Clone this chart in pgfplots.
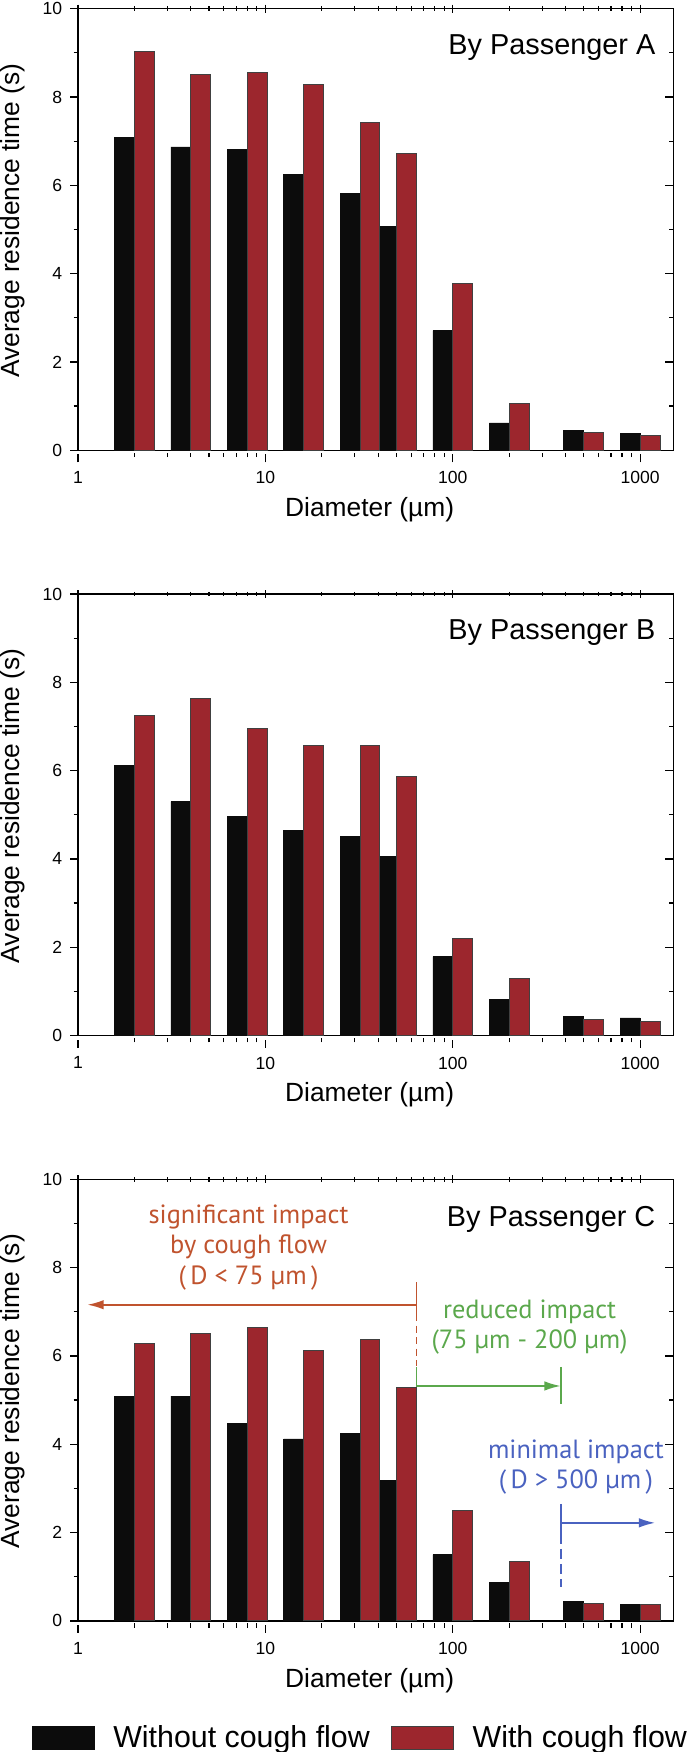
\documentclass[border=0pt]{standalone}
\usepackage{fontspec}
\setmainfont{Liberation Sans}
\newfontfamily\annfont{PT Sans}
\usepackage{pgfplots}
\pgfplotsset{compat=1.18}
\usepackage{pgfplotstable}
\usetikzlibrary{arrows.meta}

\definecolor{barred}{HTML}{9C262D}
\definecolor{barblack}{HTML}{0C0C0C}
\definecolor{annorange}{HTML}{C0532E}
\definecolor{anngreen}{HTML}{5BA84C}
\definecolor{annblue}{HTML}{4A62C0}

% d = diameter (um), a = without cough flow, b = with cough flow
\pgfplotstableread{
d a b
2 7.08 9.03
4 6.87 8.52
8 6.82 8.55
16 6.24 8.28
32 5.81 7.43
50 5.06 6.72
100 2.71 3.78
200 0.62 1.05
500 0.45 0.40
1000 0.38 0.33
}\dataA
\pgfplotstableread{
d a b
2 6.11 7.24
4 5.30 7.63
8 4.97 6.95
16 4.64 6.57
32 4.51 6.56
50 4.06 5.87
100 1.79 2.20
200 0.81 1.29
500 0.44 0.37
1000 0.40 0.31
}\dataB
\pgfplotstableread{
d a b
2 5.09 6.28
4 5.09 6.51
8 4.47 6.64
16 4.12 6.12
32 4.24 6.37
50 3.19 5.29
100 1.50 2.49
200 0.87 1.34
500 0.44 0.39
1000 0.38 0.36
}\dataC

\tikzset{ann/.style={align=center, font=\annfont\fontsize{10.5}{12.2}\selectfont}}

\pgfplotsset{
  panel/.style={
    width=237.2pt, height=176pt, scale only axis,
    xmin=0, xmax=3.176, ymin=0, ymax=10,
    xtick={0,1,2,3}, xticklabels={1,10,100,1000},
    minor xtick={0.301,0.477,0.602,0.699,0.778,0.845,0.903,0.954,
      1.301,1.477,1.602,1.699,1.778,1.845,1.903,1.954,
      2.301,2.477,2.602,2.699,2.778,2.845,2.903,2.954},
    ytick={0,2,4,6,8,10}, minor ytick={1,3,5,7,9},
    tick align=center, major tick length=3.2pt, minor tick length=1.8pt,
    major x tick style={yshift=-1.6pt}, minor x tick style={yshift=-0.9pt},
    major y tick style={xshift=-1.6pt}, minor y tick style={xshift=-0.9pt},
    every tick/.append style={line width=0.5pt, black},
    axis line style={line width=0.5pt},
    ticklabel style={font=\fontsize{7}{8}\selectfont, inner sep=1pt},
    xticklabel style={yshift=-4.1pt}, yticklabel style={xshift=-3.5pt},
    /pgf/number format/assume math mode=true,
    ybar, bar width=0.1063,
    xlabel={Diameter (µm)}, ylabel={Average residence time (s)},
    label style={font=\fontsize{10.5}{12}\selectfont},
    xlabel style={at={(axis description cs:0.49,-0.135)}, anchor=center},
    ylabel style={at={(axis description cs:-0.132,0.52)}, anchor=north, inner sep=0pt},
  },
  wo/.style={fill=barblack, draw=barblack, line width=0.3pt, bar shift=-0.05315},
  wi/.style={fill=barred, draw=black!75, line width=0.4pt, bar shift=0.05315},
}

\begin{document}
\begin{tikzpicture}
\begin{axis}[panel, at={(0,0)}, anchor=south west]
\addplot[wo] table[x expr=log10(\thisrow{d}), y=a] {\dataA};
\addplot[wi] table[x expr=log10(\thisrow{d}), y=b] {\dataA};
\node[anchor=base east, font=\fontsize{11.5}{13}\selectfont] at (rel axis cs:0.985,0.896) {By Passenger A};
\end{axis}

\begin{axis}[panel, at={(0,-233.3pt)}, anchor=south west]
\addplot[wo] table[x expr=log10(\thisrow{d}), y=a] {\dataB};
\addplot[wi] table[x expr=log10(\thisrow{d}), y=b] {\dataB};
\node[anchor=base east, font=\fontsize{11.5}{13}\selectfont] at (rel axis cs:0.985,0.896) {By Passenger B};
\end{axis}

\begin{axis}[panel, at={(0,-466.6pt)}, anchor=south west,
  legend columns=2,
  legend image code/.code={\draw[#1] (0pt,-4.5pt) rectangle (25pt,4.5pt);},
  legend style={at={(rel axis cs:-0.079,-0.265)}, anchor=west, draw=none, fill=none,
    inner sep=0pt, column sep=6.8pt, font=\fontsize{12.1}{14}\selectfont,
    nodes={inner sep=0.5pt},
    /tikz/every even column/.append style={column sep=7.8pt}}]
\addplot[wo] table[x expr=log10(\thisrow{d}), y=a] {\dataC};
\addlegendentry{Without cough flow}
\addplot[wi] table[x expr=log10(\thisrow{d}), y=b] {\dataC};
\addlegendentry{With cough flow}
\node[anchor=base east, font=\fontsize{11.5}{13}\selectfont] at (rel axis cs:0.985,0.894) {By Passenger C};
% annotations
\draw[annorange, line width=0.7pt, -{Latex[length=6.5pt,width=3.8pt]}] (axis cs:1.806,7.16) -- (axis cs:0.05,7.16);
\draw[annorange, line width=0.7pt] (axis cs:1.806,7.67) -- (axis cs:1.806,6.95);
\draw[annorange, line width=0.7pt, dash pattern=on 2.8pt off 1.8pt] (axis cs:1.806,6.95) -- (axis cs:1.806,5.78);
\draw[anngreen, line width=0.7pt] (axis cs:1.806,5.75) -- (axis cs:1.806,5.32);
\draw[anngreen, line width=0.7pt, -{Latex[length=6.5pt,width=3.8pt]}] (axis cs:1.806,5.32) -- (axis cs:2.576,5.32);
\draw[anngreen, line width=0.7pt] (axis cs:2.576,5.75) -- (axis cs:2.576,4.91);
\draw[annblue, line width=0.7pt] (axis cs:2.576,2.65) -- (axis cs:2.576,1.97);
\draw[annblue, line width=0.7pt, dash pattern=on 4pt off 2pt] (axis cs:2.576,1.97) -- (axis cs:2.576,0.77);
\draw[annblue, line width=0.7pt, -{Latex[length=6.5pt,width=3.8pt]}] (axis cs:2.576,2.22) -- (axis cs:3.08,2.22);
\node[annorange, ann] at (axis cs:0.91,8.46) {significant impact\\by cough flow\\(\,D < 75 µm\,)};
\node[anngreen, ann] at (axis cs:2.41,6.65) {reduced impact\\(75 µm - 200 µm)};
\node[annblue, ann] at (axis cs:2.657,3.48) {minimal impact\\(\,D > 500 µm\,)};
\end{axis}
\end{tikzpicture}
\end{document}
